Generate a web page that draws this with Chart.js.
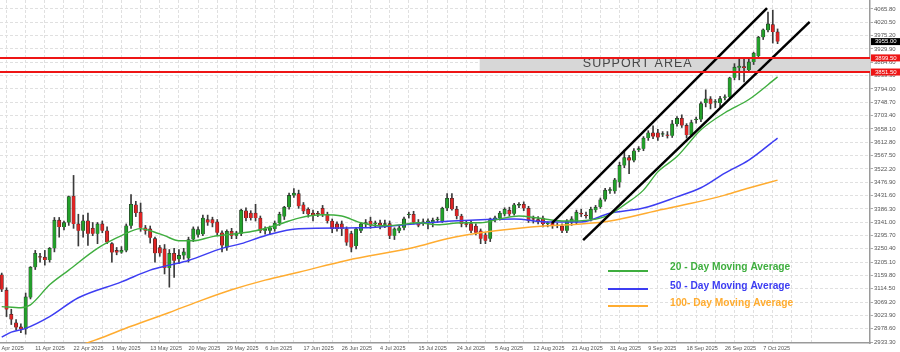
<!DOCTYPE html>
<html>
<head>
<meta charset="utf-8">
<script src="https://cdn.jsdelivr.net/npm/chart.js@4.4.1/dist/chart.umd.min.js"></script>
<style>
    html, body { margin: 0; padding: 0; background: #fff; }
    #wrap { width: 900px; height: 352px; }
</style>
</head>
<body>
<div id="wrap"><canvas id="chart" width="900" height="352"></canvas></div>
<script>
// Daily candles, one entry per bar (bar index = position on the x axis)
const opens = [
    3162,3110,3028,2999,2985,2977,3085,3188,3222,3222,
    3212,3252,3348,3325,3340,3430,3335,3312,3346,3320,
    3302,3335,3312,3268,3245,3238,3245,3329,3400,3375,
    3322,3318,3285,3255,3250,3185,3235,3215,3228,3218,
    3282,3298,3300,3350,3350,3342,3305,3255,3310,3295,
    3302,3380,3372,3372,3355,3312,3312,3318,3338,3360,
    3392,3432,3438,3400,3385,3372,3370,3388,3368,3345,
    3335,3335,3318,3302,3260,3312,3335,3345,3335,3338,
    3332,3336,3295,3312,3322,3365,3368,3340,3338,3342,
    3338,3348,3345,3388,3422,3385,3362,3336,3336,3328,
    3312,3298,3285,3352,3355,3368,3382,3370,3398,3402,
    3388,3352,3350,3355,3335,3338,3330,3328,3312,3340,
    3340,3372,3365,3352,3382,3393,3418,3448,3446,3477,
    3534,3561,3551,3586,3591,3627,3645,3645,3639,3637,
    3635,3675,3694,3670,3637,3688,3690,3746,3760,3748,
    3746,3764,3767,3832,3866,3870,3858,3886,3906,3970,
    3995,4013,3988
];
const highs = [
    3168,3118,3045,3010,2995,3100,3190,3245,3235,3245,
    3255,3357,3357,3345,3430,3500,3368,3365,3372,3340,
    3340,3345,3325,3272,3255,3258,3335,3435,3412,3406,
    3330,3328,3290,3262,3265,3248,3252,3248,3252,3290,
    3325,3325,3365,3365,3358,3350,3312,3315,3320,3310,
    3385,3390,3380,3402,3362,3325,3328,3345,3375,3395,
    3440,3455,3450,3408,3390,3382,3378,3398,3375,3352,
    3342,3345,3325,3310,3322,3340,3350,3358,3345,3348,
    3348,3345,3322,3328,3358,3375,3378,3350,3352,3352,
    3355,3358,3392,3438,3438,3395,3368,3345,3345,3335,
    3318,3305,3355,3362,3378,3390,3392,3405,3408,3410,
    3395,3362,3360,3362,3342,3345,3338,3335,3350,3360,
    3382,3385,3375,3392,3398,3423,3456,3459,3490,3545,
    3586,3568,3591,3598,3632,3652,3669,3657,3649,3649,
    3687,3700,3706,3676,3688,3698,3750,3791,3768,3758,
    3769,3774,3834,3880,3899,3901,3896,3919,3973,3998,
    4055,4062,3998
];
const lows = [
    3105,3020,2993,2975,2965,2960,3080,3180,3205,3195,
    3205,3240,3290,3315,3330,3320,3260,3290,3262,3295,
    3268,3305,3268,3205,3230,3235,3240,3320,3360,3310,
    3300,3270,3205,3225,3165,3120,3153,3200,3215,3205,
    3275,3290,3295,3330,3325,3295,3240,3245,3285,3285,
    3295,3345,3348,3345,3305,3300,3300,3310,3330,3350,
    3385,3425,3388,3370,3358,3345,3360,3360,3338,3305,
    3310,3295,3262,3240,3250,3305,3325,3320,3325,3318,
    3322,3285,3282,3305,3315,3355,3335,3325,3330,3318,
    3325,3340,3340,3380,3382,3352,3325,3325,3305,3298,
    3268,3268,3275,3342,3348,3362,3362,3365,3390,3380,
    3340,3338,3335,3325,3325,3320,3322,3305,3305,3330,
    3335,3360,3355,3345,3375,3388,3412,3439,3439,3460,
    3526,3506,3546,3581,3584,3619,3625,3619,3632,3627,
    3629,3667,3663,3627,3632,3678,3683,3733,3726,3730,
    3733,3757,3761,3825,3825,3818,3850,3877,3899,3962,
    3988,3950,3948
];
const closes = [
    3112,3044,3010,2983,2978,3087,3188,3235,3221,3212,
    3252,3348,3325,3340,3428,3335,3312,3346,3302,3302,
    3335,3312,3272,3238,3238,3246,3329,3402,3372,3322,
    3312,3288,3235,3235,3185,3235,3210,3228,3240,3282,
    3318,3316,3355,3340,3337,3305,3262,3310,3295,3305,
    3382,3355,3355,3355,3312,3318,3322,3338,3368,3392,
    3432,3440,3395,3378,3368,3362,3368,3368,3345,3318,
    3318,3318,3272,3255,3318,3335,3340,3330,3338,3330,
    3336,3295,3318,3322,3352,3368,3340,3330,3342,3345,
    3348,3350,3388,3422,3385,3362,3335,3332,3312,3305,
    3285,3278,3352,3355,3372,3385,3368,3400,3400,3388,
    3345,3350,3345,3335,3335,3328,3328,3312,3345,3352,
    3375,3368,3362,3385,3392,3417,3450,3452,3485,3534,
    3561,3551,3584,3591,3627,3645,3632,3629,3642,3635,
    3675,3694,3670,3637,3680,3690,3744,3760,3744,3750,
    3761,3767,3832,3868,3872,3865,3886,3916,3970,3995,
    4015,3988,3955
];

// Moving averages, read at these bar indexes
const ma20Idx = [0,4,6,10,14,20,25,29,31,34,37,40,44,49,53,57,60,62,67,71,75,79,83,87,91,96,100,104,108,112,117,123,127,130,134,137,141,146,151,156,162];
const ma20Val = [3054,3050,3060,3128,3178,3252,3295,3319,3312,3295,3278,3278,3292,3302,3312,3329,3345,3355,3366,3362,3339,3329,3332,3339,3332,3339,3339,3352,3362,3355,3345,3349,3367,3400,3450,3512,3564,3655,3713,3758,3835];
const ma50Idx = [0,2,5,10,16,25,31,35,39,46,50,55,62,75,86,94,107,114,121,127,134,141,146,151,156,162];
const ma50Val = [2950,2967,2980,3020,3084,3138,3178,3195,3211,3252,3268,3295,3319,3322,3335,3345,3352,3342,3342,3371,3389,3427,3458,3508,3552,3627];
const ma100Idx = [15,20,27,35,41,48,55,62,72,86,93,100,107,114,121,127,137,144,151,156,162];
const ma100Val = [2915,2943,2987,3034,3071,3111,3144,3171,3211,3255,3285,3305,3319,3329,3335,3345,3381,3405,3433,3457,3484];

// Channel lines (two end points each)
const channelUpperIdx = [114.9, 159.8];
const channelUpperVal = [3338, 4069];
const channelLowerIdx = [121.4, 168.7];
const channelLowerVal = [3280, 4022];

// Support zone
const supportTop = 3899.5;
const supportBottom = 3851.5;
const supportStartIdx = 99.8;

// Axis ticks
const yTicks = [4065.80,4020.50,3975.20,3929.90,3884.60,3839.30,3794.00,3748.70,3703.40,3658.10,3612.80,3567.50,3522.20,3476.90,3431.60,3386.30,3341.00,3295.70,3250.40,3205.10,3159.80,3114.50,3069.20,3023.90,2978.60,2933.30];
const xLabels = ["2 Apr 2025","11 Apr 2025","22 Apr 2025","1 May 2025","13 May 2025","20 May 2025","29 May 2025","6 Jun 2025","17 Jun 2025","26 Jun 2025","4 Jul 2025","15 Jul 2025","24 Jul 2025","5 Aug 2025","12 Aug 2025","21 Aug 2025","31 Aug 2025","9 Sep 2025","18 Sep 2025","26 Sep 2025","7 Oct 2025"];
const barsPerLabel = 8;
const barsPerGrid = 4;
const firstLabelIdx = -1;

const GREEN = "#22a02a";
const RED = "#e02424";
const MA20_COLOR = "#3fae3f";
const MA50_COLOR = "#3d3df2";
const MA100_COLOR = "#ffac30";
const FONT = '"Liberation Sans", Arial, sans-serif';

const toPoints = (idx, vals) => idx.map((x, i) => ({ x: x, y: vals[i] }));

const wickData = highs.map((h, i) => ({ x: i, y: [lows[i], h] }));
const bodyData = opens.map((o, i) => ({ x: i, y: [Math.min(o, closes[i]), Math.max(o, closes[i])] }));
const bodyColors = opens.map((o, i) => closes[i] >= o ? GREEN : RED);

const gridIdx = [];
for (let v = firstLabelIdx; v <= 170; v += barsPerGrid) gridIdx.push(v);

const overlay = {
    id: "overlay",
    beforeDatasetsDraw(chart) {
        const { ctx, chartArea, scales: { x, y } } = chart;
        const yT = y.getPixelForValue(supportTop);
        const yB = y.getPixelForValue(supportBottom);
        const xs = x.getPixelForValue(supportStartIdx);
        ctx.save();
        ctx.fillStyle = "#d7d7d7";
        ctx.fillRect(xs, yT, chartArea.right - xs, yB - yT);
        ctx.fillStyle = "#474747";
        ctx.font = "12.5px " + FONT;
        ctx.letterSpacing = "1px";
        ctx.textAlign = "center";
        ctx.textBaseline = "middle";
        ctx.fillText("SUPPORT AREA", x.getPixelForValue(132.8), (yT + yB) / 2 - 1);
        ctx.restore();
    },
    afterDatasetsDraw(chart) {
        const { ctx, chartArea, scales: { y } } = chart;
        ctx.save();
        ctx.strokeStyle = "#ee1515";
        ctx.lineWidth = 2;
        [supportTop, supportBottom].forEach(v => {
            const py = y.getPixelForValue(v);
            ctx.beginPath();
            ctx.moveTo(chartArea.left, py);
            ctx.lineTo(chartArea.right, py);
            ctx.stroke();
        });

        // legend box drawn on the plot
        const items = [
            { text: "20 - Day Moving Average", color: MA20_COLOR, line: 271, txt: 267 },
            { text: "50 - Day Moving Average", color: MA50_COLOR, line: 289, txt: 286 },
            { text: "100- Day Moving Average", color: MA100_COLOR, line: 306, txt: 303 }
        ];
        ctx.font = "bold 10.2px " + FONT;
        ctx.textBaseline = "middle";
        ctx.textAlign = "left";
        items.forEach(it => {
            ctx.strokeStyle = it.color;
            ctx.lineWidth = 2;
            ctx.beginPath();
            ctx.moveTo(608, it.line);
            ctx.lineTo(648, it.line);
            ctx.stroke();
            ctx.fillStyle = it.color;
            ctx.fillText(it.text, 670, it.txt);
        });
        ctx.restore();
    },
    afterDraw(chart) {
        const { ctx, chartArea, scales: { y } } = chart;
        ctx.save();
        ctx.font = "6px " + FONT;
        ctx.textBaseline = "middle";
        ctx.textAlign = "left";
        const tag = (v, bg, fg) => {
            const py = y.getPixelForValue(v);
            ctx.fillStyle = bg;
            ctx.fillRect(chartArea.right + 1, py - 3.5, 29, 7);
            ctx.fillStyle = fg;
            ctx.fillText(v.toFixed(2), chartArea.right + 5, py);
        };
        tag(supportTop, "#ee1515", "#ffffff");
        tag(supportBottom, "#ee1515", "#ffffff");
        tag(closes[closes.length - 1], "#000000", "#ffffff");
        ctx.restore();
    }
};

new Chart(document.getElementById("chart"), {
    type: "bar",
    data: {
        datasets: [
            { type: "line", data: toPoints(channelUpperIdx, channelUpperVal), borderColor: "#000", borderWidth: 2.5, pointRadius: 0, order: 0 },
            { type: "line", data: toPoints(channelLowerIdx, channelLowerVal), borderColor: "#000", borderWidth: 2.5, pointRadius: 0, order: 0 },
            { type: "line", data: toPoints(ma20Idx, ma20Val), borderColor: MA20_COLOR, borderWidth: 1.4, pointRadius: 0, cubicInterpolationMode: "monotone", order: 1 },
            { type: "line", data: toPoints(ma50Idx, ma50Val), borderColor: MA50_COLOR, borderWidth: 1.5, pointRadius: 0, cubicInterpolationMode: "monotone", order: 1 },
            { type: "line", data: toPoints(ma100Idx, ma100Val), borderColor: MA100_COLOR, borderWidth: 1.5, pointRadius: 0, cubicInterpolationMode: "monotone", order: 1 },
            { data: bodyData, backgroundColor: bodyColors, borderColor: "#2b2b2b", borderWidth: 0.6, barThickness: 3.4, minBarLength: 1, grouped: false, order: 2 },
            { data: wickData, backgroundColor: "#3a3a3a", barThickness: 1, grouped: false, order: 3 }
        ]
    },
    plugins: [overlay],
    options: {
        responsive: false,
        animation: false,
        layout: { padding: 0 },
        plugins: { legend: { display: false }, tooltip: { enabled: false } },
        scales: {
            x: {
                type: "linear",
                min: -0.36,
                max: 181.3,
                offset: false,
                afterBuildTicks: scale => { scale.ticks = gridIdx.map(v => ({ value: v })); },
                afterFit: scale => { scale.height = 9; scale.paddingLeft = 0; scale.paddingRight = 0; },
                grid: { color: "#e0e0e0", drawTicks: false },
                border: { color: "#9a9a9a", width: 1.5, dash: [3, 2] },
                ticks: {
                    autoSkip: false,
                    maxRotation: 0,
                    align: "start",
                    padding: 2,
                    color: "#555",
                    font: { size: 5.5, family: FONT },
                    callback: value => {
                        const k = (value - firstLabelIdx) / barsPerLabel;
                        return Number.isInteger(k) && k < xLabels.length ? xLabels[k] : "";
                    }
                }
            },
            y: {
                type: "linear",
                position: "right",
                min: 2930.2,
                max: 4096.4,
                afterBuildTicks: scale => { scale.ticks = yTicks.map(v => ({ value: v })); },
                afterFit: scale => { scale.width = 30; scale.paddingTop = 0; scale.paddingBottom = 0; },
                grid: { color: "#e0e0e0", tickColor: "#aaa", tickLength: 3 },
                border: { color: "#9a9a9a", width: 1.5, dash: [3, 2] },
                ticks: {
                    padding: 1,
                    color: "#555",
                    font: { size: 6, family: FONT },
                    callback: value => value.toFixed(2)
                }
            }
        }
    }
});
</script>
</body>
</html>
